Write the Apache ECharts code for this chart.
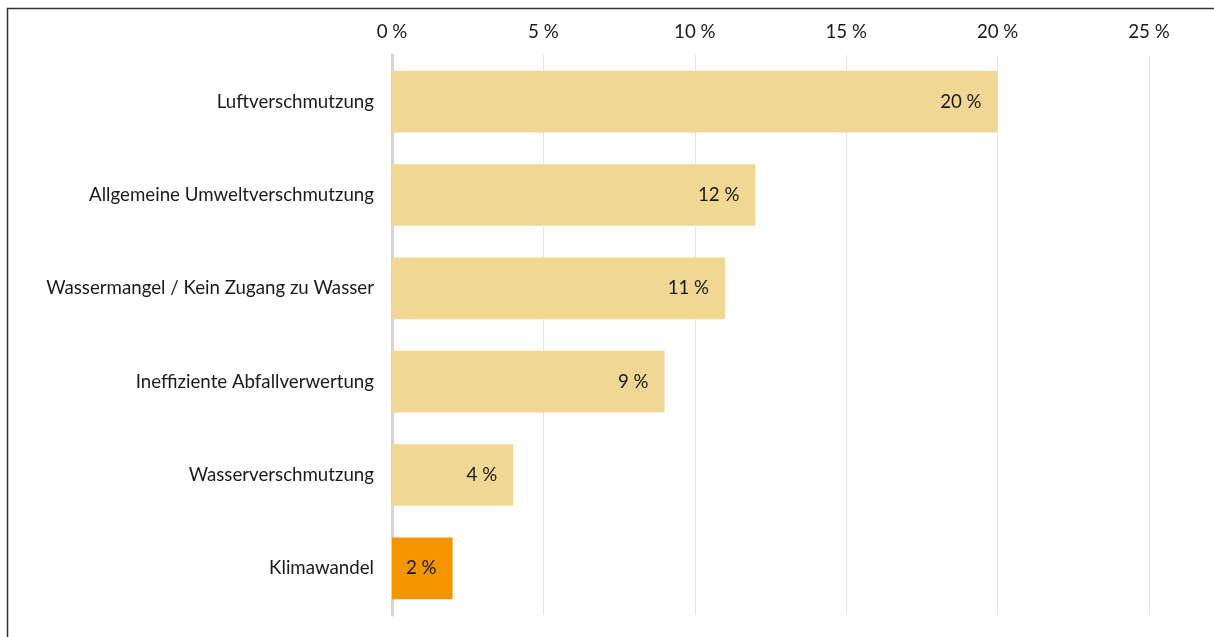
<!DOCTYPE html>
<html>
<head>
<meta charset="utf-8">
<script src="https://cdn.jsdelivr.net/npm/echarts@6/dist/echarts.min.js"></script>
<style>
  html, body { margin: 0; padding: 0; background: #ffffff; }
  #chart { width: 1214px; height: 637px; }
</style>
</head>
<body>
<div id="chart"></div>
<script>
// Environmental problems, share of mentions
const categories = [
  'Luftverschmutzung',
  'Allgemeine Umweltverschmutzung',
  'Wassermangel / Kein Zugang zu Wasser',
  'Ineffiziente Abfallverwertung',
  'Wasserverschmutzung',
  'Klimawandel'
];
const values = [20, 12, 11, 9, 4, 2];
const highlighted = 'Klimawandel';

const baseColor = '#f0d794';
const highlightColor = '#f39500';
const textColor = '#1a1a1a';
const fontFamily = 'Lato, "Noto Sans", sans-serif';
const fontSize = 18.7;

const chart = echarts.init(document.getElementById('chart'));

chart.setOption({
  animation: false,
  grid: { left: 392, right: 65, top: 55, bottom: 22, containLabel: false },
  xAxis: {
    type: 'value',
    position: 'top',
    min: 0,
    max: 25,
    interval: 5,
    axisLine: { show: false },
    axisTick: { show: false },
    axisLabel: {
      formatter: '{value} %',
      color: textColor,
      fontSize: fontSize,
      fontFamily: fontFamily,
      margin: 14
    },
    splitLine: { show: true, lineStyle: { color: '#e5e5e5', width: 1 } }
  },
  yAxis: {
    type: 'category',
    inverse: true,
    data: categories,
    axisLine: { show: true, lineStyle: { color: '#d4d4d4', width: 3 } },
    axisTick: { show: false },
    axisLabel: {
      color: textColor,
      fontSize: fontSize,
      fontFamily: fontFamily,
      margin: 18
    }
  },
  series: [{
    type: 'bar',
    barCategoryGap: '34%',
    data: values.map((v, i) => ({
      value: v,
      itemStyle: { color: categories[i] === highlighted ? highlightColor : baseColor }
    })),
    label: {
      show: true,
      position: 'insideRight',
      distance: 16,
      formatter: '{c} %',
      color: textColor,
      fontSize: fontSize,
      fontFamily: fontFamily
    }
  }],
  graphic: [
    {
      type: 'polyline',
      shape: { points: [[7.5, 637], [7.5, 8.5], [1214, 8.5]] },
      style: { stroke: '#333', lineWidth: 1.5, fill: null }
    }
  ]
});
</script>
</body>
</html>
